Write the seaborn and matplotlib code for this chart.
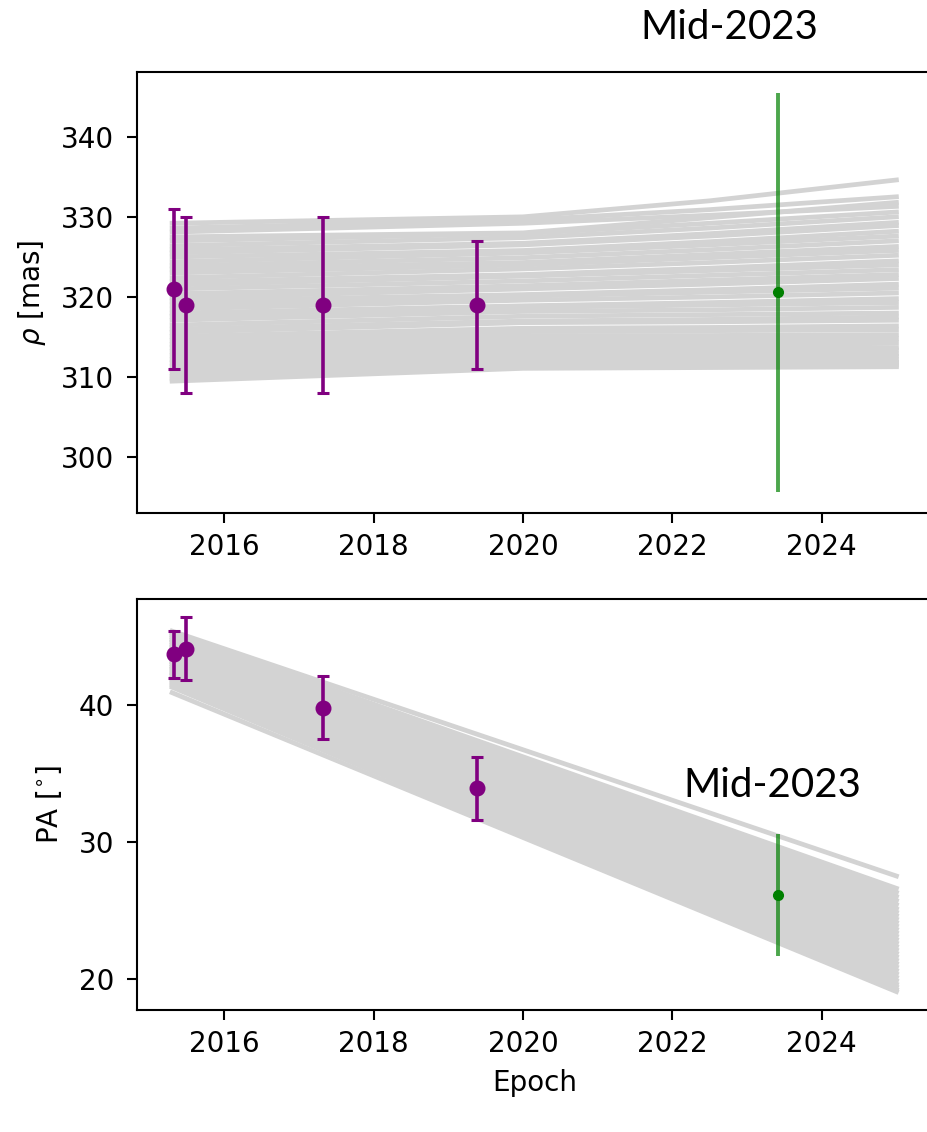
import numpy as np
import pandas as pd
import matplotlib
matplotlib.use("Agg")
import matplotlib.pyplot as plt
import seaborn as sns

# ---- observed astrometry ----
obs_epoch = [2015.32, 2015.49, 2017.32, 2019.38]
obs_rho = [321.0, 319.0, 319.0, 319.0]
obs_rho_err = [10.0, 11.0, 11.0, 8.0]
obs_pa = [43.7, 44.1, 39.8, 33.9]
obs_pa_err = [1.7, 2.3, 2.3, 2.3]

# ---- predicted position, mid-2023 ----
pred_epoch = [2023.41]
pred_rho = [320.6]
pred_rho_err = [24.9]
pred_pa = [26.1]
pred_pa_err = [4.45]

# ---- orbit-model tracks: separation at four epochs ----
rho_track_epochs = [2015.3, 2020.0, 2022.5, 2025.0]
rho_start = [329.2, 328.6, 328.1, 327.5, 327.0, 326.4, 325.9, 325.5, 325.0, 324.4,
             323.9, 323.5, 323.0, 322.4, 321.9, 321.5, 321.0, 320.4, 319.9, 319.5,
             319.0, 318.5, 318.0, 317.6, 317.1, 316.5, 316.0, 315.6, 315.1, 314.6,
             314.1, 313.7, 313.2, 312.7, 312.2, 311.8, 311.3, 310.9, 310.5, 310.1,
             309.8, 309.5]
rho_mid = [330.0, 329.6, 329.2, 328.0, 327.9, 327.4, 326.7, 326.5, 325.8, 325.5,
           324.9, 324.3, 324.0, 323.5, 322.8, 322.6, 322.0, 321.4, 321.0, 320.3,
           320.1, 319.6, 318.9, 318.7, 318.2, 317.6, 317.0, 316.8, 316.1, 315.7,
           315.2, 314.8, 314.3, 313.9, 313.4, 313.0, 312.6, 312.2, 311.9, 311.6,
           311.3, 311.1]
rho_late = [332.0, 330.9, 330.2, 329.9, 329.2, 328.6, 327.9, 327.6, 326.9, 326.5,
            325.9, 325.3, 324.9, 324.3, 323.6, 323.3, 322.7, 322.1, 321.6, 320.9,
            320.6, 320.0, 319.3, 319.0, 318.4, 317.8, 317.2, 316.9, 316.2, 315.8,
            315.2, 314.8, 314.3, 313.8, 313.4, 312.9, 312.6, 312.2, 311.8, 311.5,
            311.6, 311.2]
rho_end = [334.6, 332.5, 331.3, 331.8, 330.6, 330.0, 329.3, 328.9, 328.2, 327.6,
           327.0, 326.3, 325.8, 325.2, 324.5, 324.0, 323.4, 322.8, 322.3, 321.6,
           321.1, 320.5, 319.8, 319.3, 318.7, 318.0, 317.5, 317.1, 316.4, 315.9,
           315.3, 314.8, 314.3, 313.7, 313.4, 312.9, 312.6, 312.2, 311.8, 311.5,
           311.9, 311.3]

# ---- orbit-model tracks: position angle at two epochs ----
pa_track_epochs = [2015.3, 2025.0]
pa_start = [45.4, 45.25, 45.1, 44.95, 44.8, 44.7, 44.55, 44.4, 44.3, 44.15,
            44.0, 43.9, 43.75, 43.6, 43.5, 43.35, 43.2, 43.1, 42.95, 42.8,
            42.7, 42.55, 42.4, 42.3, 42.15, 42.0, 41.9, 41.75, 41.6, 41.45,
            41.3, 40.9]
pa_end = [27.5, 26.6, 26.3, 26.0, 25.7, 25.4, 25.1, 24.85, 24.6, 24.35,
          24.1, 23.85, 23.6, 23.35, 23.1, 22.85, 22.6, 22.35, 22.1, 21.85,
          21.6, 21.35, 21.1, 20.85, 20.6, 20.35, 20.1, 19.85, 19.6, 19.4,
          19.2, 19.05]

n_rho = len(rho_start)
rho_tracks = pd.DataFrame({
    "model": np.repeat(np.arange(n_rho), len(rho_track_epochs)),
    "epoch": np.tile(rho_track_epochs, n_rho),
    "rho": np.column_stack([rho_start, rho_mid, rho_late, rho_end]).ravel(),
})
n_pa = len(pa_start)
pa_tracks = pd.DataFrame({
    "model": np.repeat(np.arange(n_pa), len(pa_track_epochs)),
    "epoch": np.tile(pa_track_epochs, n_pa),
    "pa": np.column_stack([pa_start, pa_end]).ravel(),
})

plt.rcParams.update({
    "font.size": 20,
    "axes.linewidth": 1.5,
    "xtick.major.size": 7,
    "ytick.major.size": 7,
    "xtick.major.width": 1.5,
    "ytick.major.width": 1.5,
    "xtick.major.pad": 7.5,
    "ytick.major.pad": 9.5,
    "axes.labelpad": 8,
})
plt.rcParams["font.family"] = ["DejaVu Sans"]

fig = plt.figure(figsize=(9.27, 11.32), dpi=100)
# the panels run slightly past the right edge of the canvas
ax1 = fig.add_axes([0.1478, 0.5468, 0.8587, 0.3896])
ax2 = fig.add_axes([0.1478, 0.1078, 0.8587, 0.3631])

grey = "lightgray"
lw_track = 3.4

# top panel: separation
sns.lineplot(data=rho_tracks, x="epoch", y="rho", units="model", estimator=None,
             color=grey, linewidth=lw_track, legend=False, ax=ax1)
ax1.errorbar(obs_epoch, obs_rho, yerr=obs_rho_err, fmt="o", color="purple",
             markersize=10.5, elinewidth=2.6, capsize=4.3, capthick=2.2, zorder=5)
ax1.errorbar(pred_epoch, pred_rho, yerr=pred_rho_err, fmt="none", ecolor="green",
             elinewidth=2.8, alpha=0.7, zorder=5)
ax1.plot(pred_epoch, pred_rho, "o", color="green", markersize=7, zorder=6)

# bottom panel: position angle
sns.lineplot(data=pa_tracks, x="epoch", y="pa", units="model", estimator=None,
             color=grey, linewidth=lw_track, legend=False, ax=ax2)
ax2.errorbar(obs_epoch, obs_pa, yerr=obs_pa_err, fmt="o", color="purple",
             markersize=10.5, elinewidth=2.6, capsize=4.3, capthick=2.2, zorder=5)
ax2.errorbar(pred_epoch, pred_pa, yerr=pred_pa_err, fmt="none", ecolor="green",
             elinewidth=2.8, alpha=0.7, zorder=5)
ax2.plot(pred_epoch, pred_pa, "o", color="green", markersize=7, zorder=6)

xticks = [2016, 2018, 2020, 2022, 2024]
for ax in (ax1, ax2):
    ax.set_xlim(2014.83, 2025.49)
    ax.set_xticks(xticks)
    ax.set_xticklabels([str(t) for t in xticks])
    ax.set_xlabel("")

ax1.set_ylim(293.05, 348.07)
ax1.set_yticks([300, 310, 320, 330, 340])
ax1.set_ylabel(r"$\rho$ [mas]")

ax2.set_ylim(17.71, 47.75)
ax2.set_yticks([20, 30, 40])
ax2.set_ylabel(r"PA [$^{\circ}$]")
ax2.set_xlabel("Epoch")

ax1.yaxis.set_label_coords(-0.112, 0.5)
ax2.yaxis.set_label_coords(-0.092, 0.5)

fig.text(0.7864, 1 - 39.3 / 1132, "Mid-2023", fontsize=29, family="Lato",
         ha="center", va="baseline")
fig.text(0.8328, 1 - 796.7 / 1132, "Mid-2023", fontsize=29, family="Lato",
         ha="center", va="baseline")

fig.savefig("out.png", dpi=100, facecolor="white")
